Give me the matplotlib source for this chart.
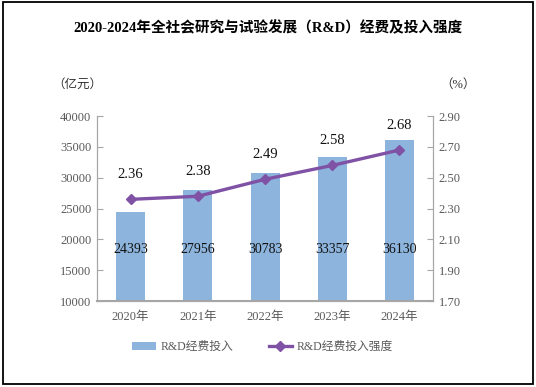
import matplotlib.pyplot as plt
from matplotlib.patches import Rectangle

years = ['2020年', '2021年', '2022年', '2023年', '2024年']
spending = [24393, 27956, 30783, 33357, 36130]
intensity = [2.36, 2.38, 2.49, 2.58, 2.68]
left_ticks = [10000, 15000, 20000, 25000, 30000, 35000, 40000]
right_ticks = [1.70, 1.90, 2.10, 2.30, 2.50, 2.70, 2.90]

serif = ['Liberation Serif', 'Noto Sans CJK SC']
bar_color = '#8CB4DC'
line_color = '#8052A6'
grey = '#595959'

fig = plt.figure(figsize=(5.36, 3.87), dpi=100)
ax = fig.add_axes([0.181, 0.222, 0.627, 0.478])
ax2 = ax.twinx()

x = list(range(len(years)))
bars = ax.bar(x, spending, width=0.43, color=bar_color, label='R&D经费投入', zorder=2)
line, = ax2.plot(x, intensity, color=line_color, lw=2.4, marker='D', markersize=5,
                 label='R&D经费投入强度', zorder=3)

ax.set_xlim(-0.5, 4.5)
ax.set_ylim(10000, 40000)
ax.set_yticks(left_ticks)
ax.set_yticklabels([str(v) for v in left_ticks], family=serif, fontsize=9, color=grey)
ax2.set_ylim(1.70, 2.90)
ax2.set_yticks(right_ticks)
ax2.set_yticklabels([f'{v:.2f}' for v in right_ticks], family=serif, fontsize=9, color=grey)
ax.set_xticks(x)
ax.set_xticklabels(years, family=serif, fontsize=9, color=grey)

for a in (ax, ax2):
    for s in a.spines.values():
        s.set_color('#A6A6A6')
    a.spines['top'].set_visible(False)
ax.tick_params(axis='y', direction='in', length=4, color='#A6A6A6', pad=4)
ax2.tick_params(axis='y', direction='in', length=4, color='#A6A6A6', pad=4)
ax.tick_params(axis='x', length=0, pad=7)
ax.spines['bottom'].set_linewidth(1.5)

for xi, v in zip(x, spending):
    ax.text(xi, 18300, str(v), ha='center', va='center', family=serif,
            fontsize=10, color='#111111', zorder=4)
for xi, v in zip(x, intensity):
    ax2.annotate(f'{v:.2f}', (xi, v), xytext=(0, 13), textcoords='offset points',
                 ha='center', va='bottom', family=serif, fontsize=10.5,
                 color='#111111')

fig.text(0.5, 0.927, '2020-2024年全社会研究与试验发展（R&D）经费及投入强度', ha='center',
         va='center', family=serif, fontsize=10.5, fontweight='bold')
fig.text(0.145, 0.78, '（亿元）', ha='center', va='center', family=serif,
         fontsize=9, color='#333333')
fig.text(0.855, 0.78, '（%）', ha='center', va='center', family=serif,
         fontsize=9, color='#333333')

fig.legend([bars, line], ['R&D经费投入', 'R&D经费投入强度'], loc='center',
           bbox_to_anchor=(0.49, 0.103), ncol=2, frameon=False, handlelength=2.0,
           handletextpad=0.4, columnspacing=3.0, prop={'family': serif, 'size': 8.5},
           labelcolor=grey)

fig.patches.append(Rectangle((0.006, 0.008), 0.988, 0.986, transform=fig.transFigure,
                             fill=False, edgecolor='black', lw=1.3))

fig.savefig('out.png', dpi=100)
